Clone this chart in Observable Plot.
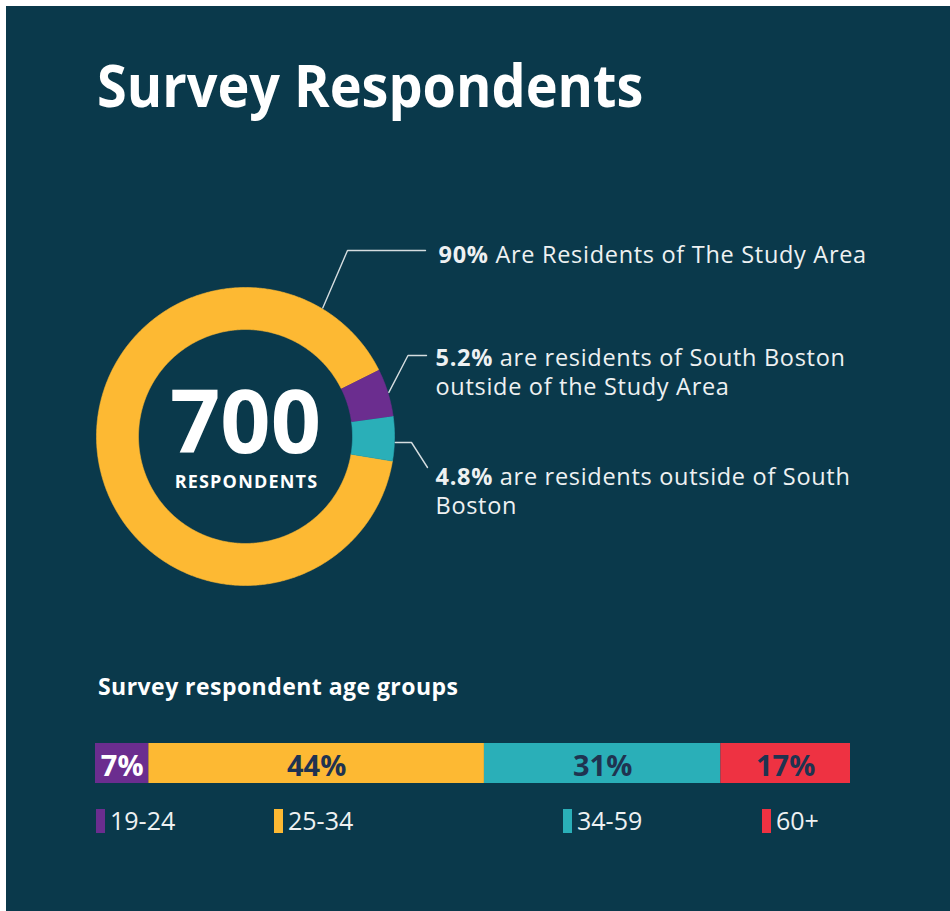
<!DOCTYPE html>
<html><head><meta charset="utf-8">
<script src="https://cdn.jsdelivr.net/npm/d3@7"></script>
<script src="https://cdn.jsdelivr.net/npm/@observablehq/plot@0.6"></script>
<style>
html,body{margin:0;padding:0;background:#ffffff;width:950px;height:911px;overflow:hidden;font-family:"Open Sans",sans-serif;}
#panel{position:absolute;left:6px;top:6px;width:944px;height:905px;background:#0a394b;}
.abs{position:absolute;white-space:nowrap;line-height:1;}
#title{left:97px;top:55px;font-size:59px;font-weight:700;color:#ffffff;transform:scaleX(0.915);transform-origin:0 0;}
#subtitle{left:98px;top:675px;font-size:23px;font-weight:700;color:#ffffff;letter-spacing:0.45px;}
.sw{position:absolute;top:809px;width:9px;height:24px;}
.lg{position:absolute;top:808px;font-size:25px;line-height:1;color:#eef1f2;white-space:nowrap;}
svg{overflow:visible;}
</style></head><body>
<div id="panel"></div>
<div id="title" class="abs">Survey Respondents</div>
<div id="donut" class="abs" style="left:0;top:220px"></div>
<div id="subtitle" class="abs">Survey respondent age groups</div>
<div id="bar" class="abs" style="left:95px;top:743px"></div>
<div id="legend"></div>
<script>
// ---- data ----
const totalRespondents = 700;
const centerLabel = "RESPONDENTS";
const residenceShare = [90, 5.2, 4.8];
const residencePct = ["90%", "5.2%", "4.8%"];
const residenceText = [
  "Are Residents of The Study Area",
  "are residents of South Boston\noutside of the Study Area",
  "are residents outside of South\nBoston"
];
const residenceColors = ["#fdb933", "#6b2d8f", "#2aafb8"];

const ageGroups = ["19-24", "25-34", "34-59", "60+"];
const ageShare = [7, 44, 31, 17];
const ageColors = ["#6b2d8f", "#fdb933", "#2aafb8", "#ee3242"];

// ---- layout (pixels) ----
const CX = 245, CY = 436, TOP = 220, H = 400, W = 950;
const R1 = 149, R0 = 107, START = 99.5;
const leaderAngles = [31, 72.9, 92.3];
const leaderBends = [[[102, -186], [180, -186]], [[162.5, -81], [181, -81]], [[166, 6], [182, 31]]];
const labelX = [193, 190, 190];
const labelBase = [262, 365, 484];
const labelSize = 23.5, labelLH = 30 / 23.5;
const legendX = [96, 274, 563, 762];

const rad = a => a * Math.PI / 180;
const total = d3.sum(residenceShare);
let acc = START;
const arcs = residenceShare.map((v, i) => { const a0 = acc; acc += v / total * 360; return {i, a0, a1: acc}; });
const slicePts = arcs.flatMap(({i, a0, a1}) => {
  const n = Math.max(2, Math.ceil((a1 - a0) / 0.5));
  const pts = [];
  for (let k = 0; k <= n; k++) { const a = rad(a0 + (a1 - a0) * k / n); pts.push({i, x: R1 * Math.sin(a), y: -R1 * Math.cos(a)}); }
  for (let k = n; k >= 0; k--) { const a = rad(a0 + (a1 - a0) * k / n); pts.push({i, x: R0 * Math.sin(a), y: -R0 * Math.cos(a)}); }
  return pts;
});
const leaderPts = leaderAngles.flatMap((ang, i) => {
  const a = rad(ang);
  return [{i, x: 150 * Math.sin(a), y: -150 * Math.cos(a)}, ...leaderBends[i].map(([x, y]) => ({i, x, y}))];
});
const labels = residencePct.map((p, i) => ({
  text: p + " " + residenceText[i],
  x: labelX[i],
  y: labelBase[i] - 0.71 * labelLH * labelSize - CY
}));

const donut = Plot.plot({
  width: W, height: H, margin: 0,
  x: {domain: [-CX, W - CX], range: [0, W], axis: null},
  y: {domain: [TOP - CY, TOP + H - CY], range: [0, H], axis: null},
  color: {type: "identity"},
  style: {background: "transparent", overflow: "visible"},
  marks: [
    Plot.line(slicePts, {x: "x", y: "y", z: "i", fill: d => residenceColors[d.i], stroke: d => residenceColors[d.i], strokeWidth: 0.6}),
    Plot.line(leaderPts, {x: "x", y: "y", z: "i", stroke: "#d5dde0", strokeWidth: 1.4}),
    Plot.text([totalRespondents], {x: () => 0, y: () => 16, text: d => String(d), fill: "#ffffff", fontSize: 88, fontWeight: 700, lineAnchor: "bottom", textAnchor: "middle", fontFamily: "Open Sans"}),
    Plot.text([centerLabel], {x: () => 1, y: () => 51, text: d => d, fill: "#ffffff", fontSize: 18, fontWeight: 700, lineAnchor: "bottom", textAnchor: "middle", fontFamily: "Open Sans"}),
    Plot.text(labels, {x: "x", y: "y", text: "text", fill: "#eef1f2", fontSize: labelSize, lineHeight: labelLH, lineAnchor: "top", textAnchor: "start", fontFamily: "Open Sans"})
  ]
});
const ns = "http://www.w3.org/2000/svg";
donut.querySelectorAll("text").forEach(t => {
  const full = t.textContent;
  if (full === centerLabel) { t.style.letterSpacing = "1.2px"; return; }
  if (!residencePct.some(p => full.startsWith(p + " "))) return;
  t.style.letterSpacing = "0.7px";
  const target = t.querySelector("tspan") || t;
  const s = target.textContent, k = s.indexOf(" ");
  target.textContent = "";
  const b = document.createElementNS(ns, "tspan");
  b.setAttribute("font-weight", "700");
  b.textContent = s.slice(0, k);
  target.append(b, document.createTextNode(s.slice(k)));
});
document.getElementById("donut").append(donut);

const ageRows = ageGroups.map((g, i) => ({group: g, share: ageShare[i], i}));
const bar = Plot.plot({
  width: 755, height: 40, margin: 0,
  x: {domain: [0, d3.sum(ageShare)], axis: null},
  color: {domain: ageGroups, range: ageColors},
  style: {background: "transparent", overflow: "visible"},
  marks: [
    Plot.barX(ageRows, {x: "share", fill: "group", inset: 0}),
    Plot.text(ageRows, Plot.stackX({x: "share", text: d => d.i === 0 ? d.share + "%" : "", fill: "#ffffff", fontSize: 29, fontWeight: 700, lineAnchor: "bottom", dy: 12, fontFamily: "Open Sans"})),
    Plot.text(ageRows, Plot.stackX({x: "share", text: d => d.i === 0 ? "" : d.share + "%", fill: "#1f3350", fontSize: 29, fontWeight: 700, lineAnchor: "bottom", dy: 12, fontFamily: "Open Sans"}))
  ]
});
document.getElementById("bar").append(bar);

const legend = document.getElementById("legend");
ageGroups.forEach((g, i) => {
  const sw = document.createElement("div");
  sw.className = "sw"; sw.style.left = legendX[i] + "px"; sw.style.background = ageColors[i];
  const lb = document.createElement("div");
  lb.className = "lg"; lb.style.left = (legendX[i] + 14) + "px"; lb.textContent = g;
  legend.append(sw, lb);
});
</script>
</body></html>
